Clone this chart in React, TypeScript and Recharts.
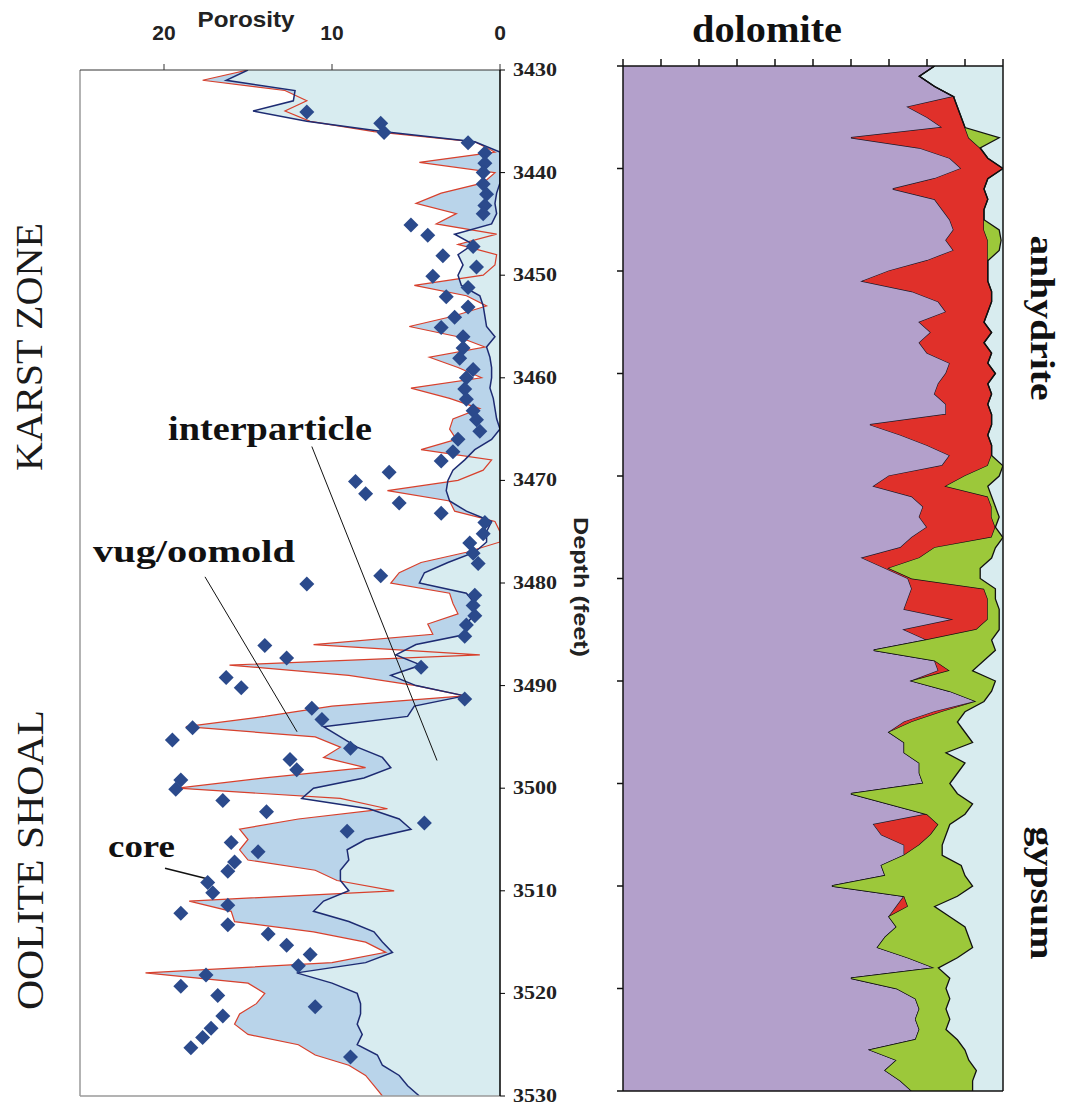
import React from 'react';
import { ComposedChart, Area, Line, Scatter, XAxis, YAxis, ReferenceLine, CartesianGrid } from 'recharts';

// depth grid (feet) shared by both tracks
const DEPTH = [
  3430, 3431, 3432, 3433, 3434, 3435, 3436, 3437, 3438, 3439,
  3440, 3441, 3442, 3443, 3444, 3445, 3446, 3447, 3448, 3449,
  3450, 3451, 3452, 3453, 3454, 3455, 3456, 3457, 3458, 3459,
  3460, 3461, 3462, 3463, 3464, 3465, 3466, 3467, 3468, 3469,
  3470, 3471, 3472, 3473, 3474, 3475, 3476, 3477, 3478, 3479,
  3480, 3481, 3482, 3483, 3484, 3485, 3486, 3487, 3488, 3489,
  3490, 3491, 3492, 3493, 3494, 3495, 3496, 3497, 3498, 3499,
  3500, 3501, 3502, 3503, 3504, 3505, 3506, 3507, 3508, 3509,
  3510, 3511, 3512, 3513, 3514, 3515, 3516, 3517, 3518, 3519,
  3520, 3521, 3522, 3523, 3524, 3525, 3526, 3527, 3528, 3529,
  3530,
];

// total log porosity (red line)
const TOTAL_POROSITY = [
  15.0, 17.7, 12.8, 11.5, 12.8, 11.3, 7.5, 1.5, 0.3, 4.8,
  0.3, 1.0, 3.5, 5.0, 2.6, 3.8, 0.2, 2.5, 0.2, 0.3,
  1.0, 5.1, 2.0, 0.8, 2.8, 5.4, 2.5, 0.9, 4.2, 2.5,
  1.1, 5.3, 3.0, 1.2, 2.8, 3.0, 2.6, 4.7, 0.5, 1.0,
  2.5, 6.7, 3.0, 2.7, 0.3, 0.0, 0.0, 2.0, 4.7, 6.0,
  6.5, 3.0, 2.8, 2.5, 4.3, 4.0, 11.1, 1.2, 16.1, 9.0,
  5.0, 2.1, 10.0, 14.0, 18.7, 11.0, 9.5, 10.5, 8.0, 14.0,
  19.2, 9.5, 6.7, 12.0, 15.5, 15.0, 15.5, 15.0, 11.0, 9.7,
  6.3, 18.5, 16.0, 15.8, 11.1, 8.0, 6.8, 10.0, 21.1, 15.0,
  14.0, 14.5, 15.5, 15.8, 15.0, 12.0, 11.0, 9.0, 8.0, 7.5,
  7.0,
];

// interparticle porosity (dark blue line)
const INTERPARTICLE = [
  15.0, 16.3, 12.2, 12.3, 14.7, 11.5, 7.0, 1.5, 0.0, 0.0,
  0.0, 0.0, 0.2, 0.3, 0.2, 0.5, 2.7, 1.6, 2.5, 2.2,
  2.5, 2.3, 1.2, 1.0, 0.9, 0.8, 0.3, 0.8, 0.6, 0.5,
  0.5, 0.6, 0.4, 0.3, 0.2, 0.0, 0.5, 1.5, 2.1, 2.8,
  3.1, 3.2, 3.0, 2.0, 0.5, 0.8, 0.8, 1.5, 3.1, 4.5,
  4.8, 2.0, 1.5, 1.5, 2.0, 2.0, 5.0, 6.2, 4.7, 6.5,
  5.0, 2.1, 5.1, 5.5, 10.5, 9.5, 8.5, 7.0, 6.5, 8.1,
  11.1, 11.8, 7.8, 6.0, 5.3, 8.0, 9.1, 9.0, 9.5, 9.5,
  9.0, 10.5, 11.1, 9.0, 7.5, 7.0, 6.4, 8.0, 12.1, 10.0,
  8.5, 8.3, 8.3, 8.5, 8.2, 8.5, 7.3, 7.0, 6.0, 5.5,
  4.8,
];

// core plug measurements
const CORE_DEPTH = [
  3434.1, 3435.2, 3436.1, 3437.1, 3438.1, 3439.1, 3440.0, 3441.1, 3442.1, 3443.2,
  3444.0, 3445.1, 3446.1, 3447.2, 3448.1, 3449.2, 3450.1, 3451.2, 3452.1, 3453.1,
  3454.1, 3455.1, 3456.0, 3457.1, 3458.1, 3459.2, 3460.0, 3461.1, 3462.1, 3463.2,
  3464.1, 3465.2, 3466.0, 3467.2, 3468.1, 3469.2, 3470.1, 3471.3, 3472.2, 3473.2,
  3474.1, 3475.2, 3476.1, 3477.1, 3478.1, 3479.3, 3480.1, 3481.2, 3482.2, 3483.2,
  3484.1, 3485.2, 3486.1, 3487.3, 3488.2, 3489.2, 3490.2, 3491.3, 3492.2, 3493.3,
  3494.1, 3495.3, 3496.1, 3497.2, 3498.2, 3499.2, 3500.1, 3501.2, 3502.3, 3503.4,
  3504.2, 3505.3, 3506.2, 3507.2, 3508.1, 3509.2, 3510.2, 3511.4, 3512.2, 3513.3,
  3514.2, 3515.3, 3516.2, 3517.3, 3518.2, 3519.3, 3520.2, 3521.3, 3522.2, 3523.4,
  3524.3, 3525.3, 3526.2,
];
const CORE_POROSITY = [
  11.5, 7.1, 6.9, 1.9, 0.9, 0.9, 1.0, 1.0, 0.8, 0.9,
  1.0, 5.3, 4.3, 1.6, 3.4, 1.4, 4.0, 1.9, 3.2, 1.9,
  2.7, 3.5, 2.2, 2.2, 2.4, 1.6, 2.0, 2.1, 2.0, 1.6,
  1.4, 1.2, 2.5, 2.8, 3.5, 6.6, 8.6, 8.0, 6.0, 3.5,
  0.9, 1.0, 1.8, 1.6, 1.3, 7.1, 11.5, 1.5, 1.6, 1.5,
  2.0, 2.1, 14.0, 12.7, 4.7, 16.3, 15.4, 2.1, 11.2, 10.6,
  18.3, 19.5, 8.9, 12.5, 12.1, 19.0, 19.3, 16.5, 13.9, 4.5,
  9.1, 16.0, 14.4, 15.8, 16.2, 17.4, 17.1, 16.2, 19.0, 16.2,
  13.8, 12.7, 11.3, 12.0, 17.5, 19.0, 16.8, 11.0, 16.5, 17.2,
  17.7, 18.4, 8.9,
];

// mineralogy, percent of rock (stacked from the left)
const DOLOMITE = [
  82, 78, 82, 87, 75, 80, 84, 60, 78, 86,
  89, 82, 71, 82, 84, 86, 87, 85, 87, 80,
  70, 63, 76, 83, 85, 78, 81, 78, 80, 86,
  85, 83, 82, 85, 85, 65, 73, 80, 86, 84,
  70, 66, 76, 79, 78, 80, 76, 73, 63, 69,
  75, 76, 75, 74, 87, 74, 80, 66, 82, 83,
  76, 86, 93, 82, 74, 70, 74, 74, 78, 78,
  79, 60, 70, 80, 66, 68, 74, 74, 68, 69,
  55, 74, 72, 70, 72, 69, 67, 75, 82, 60,
  72, 77, 78, 77, 78, 77, 65, 72, 69, 73,
  76,
];
const ANHYDRITE = [
  0, 0, 0, 0, 13, 9, 6, 31, 16, 10,
  11, 14, 24, 14, 11, 9, 8, 11, 9, 16,
  26, 33, 21, 14, 11, 17, 16, 17, 17, 10,
  13, 13, 15, 11, 12, 32, 23, 17, 11, 12,
  20, 19, 20, 18, 19, 18, 21, 9, 15, 1,
  1, 19, 21, 22, 9, 19, 0, 0, 0, 3,
  0, 0, 0, 2, 2, 0, 0, 0, 0, 0,
  0, 0, 0, 0, 17, 13, 4, 0, 0, 0,
  0, 0, 3, 0, 0, 0, 0, 0, 0, 0,
  0, 0, 0, 0, 0, 0, 0, 0, 0, 0,
  0,
];
const GYPSUM = [
  0, 0, 0, 0, 0, 0, 0, 8, 0, 0,
  0, 0, 0, 0, 0, 0, 4, 3.5, 3, 0,
  0, 0, 0, 0, 0, 0, 0, 0, 0, 0,
  0, 0, 0, 0, 0, 0, 0, 0, 0, 4,
  9, 11, 1, 1, 2, 0, 3, 16, 19, 24,
  18, 3, 2, 3, 3, 6, 17, 32, 13, 6,
  22, 11, 2, 6, 12, 20, 18, 11, 12, 10,
  7, 28, 22, 10, 3, 4, 6, 10, 21, 21,
  37, 14, 7, 16, 18, 22, 25, 13, 1, 26,
  13, 9, 7, 9, 7, 11, 25, 19, 24, 19,
  16,
];

const DEPTH_TICKS = [3430, 3440, 3450, 3460, 3470, 3480, 3490, 3500, 3510, 3520, 3530];
const POROSITY_TICKS = [20, 10, 0];
const PERCENT_TICKS = [0, 10, 20, 30, 40, 50, 60, 70, 80, 90, 100];

// leader lines for the annotations, in (porosity, depth)
const INTERPARTICLE_LEADER = [{ x: 11.2, y: 3466.7 }, { x: 3.75, y: 3497.3 }];
const VUG_LEADER = [{ x: 17.56, y: 3479.4 }, { x: 12.08, y: 3494.5 }];
const CORE_LEADER = [{ x: 19.94, y: 3507.8 }, { x: 17.26, y: 3508.9 }];

const logRows = DEPTH.map((depth, i) => ({ depth, total: TOTAL_POROSITY[i], inter: INTERPARTICLE[i] }));
const coreRows = CORE_DEPTH.map((depth, i) => ({ depth, core: CORE_POROSITY[i] }));
const mineralRows = DEPTH.map((depth, i) => ({
  depth,
  dolomite: DOLOMITE[i],
  anhydrite: ANHYDRITE[i],
  gypsum: GYPSUM[i],
}));

const SERIF = "'Liberation Serif', 'Times New Roman', serif";
const SANS = "'Liberation Sans', Arial, sans-serif";

const DepthTick = (props: any) => {
  const { x, y, payload } = props;
  return (
    <text x={x} y={y} dy={6} textAnchor="start" fontFamily={SERIF} fontWeight="bold" fontSize={19}
      fill="#222" textLength={44} lengthAdjust="spacingAndGlyphs">
      {payload.value}
    </text>
  );
};

const PorosityTick = (props: any) => {
  const { x, y, payload } = props;
  return (
    <text x={x} y={y} textAnchor="middle" fontFamily={SANS} fontWeight="bold" fontSize={21} fill="#222">
      {payload.value}
    </text>
  );
};

// tick marks only, no label
const NoLabel = () => null;

const Diamond = (props: any) => {
  const { cx, cy } = props;
  if (cx == null || cy == null) return null;
  const r = 7.5;
  return (
    <polygon
      points={`${cx},${cy - r} ${cx + r},${cy} ${cx},${cy + r} ${cx - r},${cy}`}
      fill="#2b4a8c"
    />
  );
};

const PorosityTrack = () => (
  <ComposedChart
    layout="vertical"
    width={610}
    height={1107}
    data={logRows}
    margin={{ top: 40, right: 50, bottom: 11, left: 80 }}
  >
    <XAxis
      type="number"
      orientation="top"
      domain={[0, 25]}
      reversed
      allowDataOverflow
      ticks={POROSITY_TICKS}
      height={30}
      tickSize={6}
      tickMargin={24}
      tick={<PorosityTick />}
      axisLine={{ stroke: '#333' }}
      tickLine={{ stroke: '#333' }}
    />
    <YAxis
      type="number"
      dataKey="depth"
      orientation="right"
      domain={[3430, 3530]}
      allowDataOverflow
      ticks={DEPTH_TICKS}
      width={60}
      tickSize={5}
      tickMargin={8}
      tick={<DepthTick />}
      axisLine={{ stroke: '#000', strokeWidth: 1.5 }}
      tickLine={{ stroke: '#000' }}
    />
    <Area dataKey="total" type="linear" fill="#b9d4ea" fillOpacity={1} stroke="none" isAnimationActive={false} />
    <Area dataKey="inter" type="linear" fill="#d8ecf0" fillOpacity={1} stroke="none" isAnimationActive={false} />
    <Line dataKey="total" type="linear" stroke="#d8402c" strokeWidth={1.2} dot={false} isAnimationActive={false} />
    <Line dataKey="inter" type="linear" stroke="#1d2b72" strokeWidth={1.5} dot={false} isAnimationActive={false} />
    <Scatter data={coreRows} dataKey="core" shape={<Diamond />} isAnimationActive={false} />
    <ReferenceLine x={25} stroke="#9a9a9a" strokeWidth={1.5} />
    <ReferenceLine y={3530} stroke="#9a9a9a" strokeWidth={1.5} />
    <ReferenceLine segment={INTERPARTICLE_LEADER} stroke="#111" strokeWidth={1} ifOverflow="visible" />
    <ReferenceLine segment={VUG_LEADER} stroke="#111" strokeWidth={1} ifOverflow="visible" />
    <ReferenceLine segment={CORE_LEADER} stroke="#111" strokeWidth={1.5} ifOverflow="visible" />
  </ComposedChart>
);

const MineralTrack = () => (
  <ComposedChart
    layout="vertical"
    width={505}
    height={1107}
    data={mineralRows}
    margin={{ top: 36, right: 62, bottom: 16, left: 43 }}
  >
    <CartesianGrid horizontal={false} vertical={false} fill="#d8ecef" fillOpacity={1} />
    <XAxis
      type="number"
      orientation="top"
      domain={[0, 100]}
      allowDataOverflow
      ticks={PERCENT_TICKS}
      height={30}
      tickSize={7}
      tick={<NoLabel />}
      axisLine={{ stroke: '#111', strokeWidth: 1.5 }}
      tickLine={{ stroke: '#111', strokeWidth: 1.5 }}
    />
    <YAxis
      type="number"
      dataKey="depth"
      orientation="left"
      domain={[3430, 3530]}
      allowDataOverflow
      ticks={DEPTH_TICKS}
      width={20}
      tickSize={6}
      tick={<NoLabel />}
      axisLine={{ stroke: '#111', strokeWidth: 1.5 }}
      tickLine={{ stroke: '#111', strokeWidth: 1.5 }}
    />
    <Area dataKey="dolomite" stackId="m" type="linear" fill="#b3a0cb" fillOpacity={1} stroke="#1a1a2a" strokeWidth={1.3} isAnimationActive={false} />
    <Area dataKey="anhydrite" stackId="m" type="linear" fill="#e0302a" fillOpacity={1} stroke="#111" strokeWidth={1.3} isAnimationActive={false} />
    <Area dataKey="gypsum" stackId="m" type="linear" fill="#9cc83a" fillOpacity={1} stroke="#111" strokeWidth={1.3} isAnimationActive={false} />
    <ReferenceLine x={100} stroke="#111" strokeWidth={1.5} />
    <ReferenceLine y={3530} stroke="#111" strokeWidth={1.5} />
  </ComposedChart>
);

const Labels = () => (
  <svg width={1065} height={1107} style={{ position: 'absolute', left: 0, top: 0, pointerEvents: 'none' }}>
    <text x={246} y={27} textAnchor="middle" fontFamily={SANS} fontWeight="bold" fontSize={22} fill="#222"
      textLength={97} lengthAdjust="spacingAndGlyphs">Porosity</text>
    <text x={767} y={42} textAnchor="middle" fontFamily={SERIF} fontWeight="bold" fontSize={38} fill="#111"
      textLength={150} lengthAdjust="spacingAndGlyphs">dolomite</text>
    <text x={1031} y={318} transform="rotate(90 1031 318)" textAnchor="middle" fontFamily={SERIF} fontWeight="bold"
      fontSize={34} fill="#111" textLength={165} lengthAdjust="spacingAndGlyphs">anhydrite</text>
    <text x={1031} y={893} transform="rotate(90 1031 893)" textAnchor="middle" fontFamily={SERIF} fontWeight="bold"
      fontSize={34} fill="#111" textLength={133} lengthAdjust="spacingAndGlyphs">gypsum</text>
    <text x={574} y={587} transform="rotate(90 574 587)" textAnchor="middle" fontFamily={SANS} fontWeight="bold"
      fontSize={20} fill="#222" textLength={140} lengthAdjust="spacingAndGlyphs">Depth (feet)</text>
    <text x={42} y={347} transform="rotate(-90 42 347)" textAnchor="middle" fontFamily={SERIF}
      fontSize={38} fill="#1a1a1a" textLength={248} lengthAdjust="spacingAndGlyphs">KARST ZONE</text>
    <text x={43} y={860} transform="rotate(-90 43 860)" textAnchor="middle" fontFamily={SERIF}
      fontSize={38} fill="#1a1a1a" textLength={300} lengthAdjust="spacingAndGlyphs">OOLITE SHOAL</text>
    <text x={168} y={440} fontFamily={SERIF} fontWeight="bold" fontSize={33} fill="#111"
      textLength={204} lengthAdjust="spacingAndGlyphs">interparticle</text>
    <text x={93} y={562} fontFamily={SERIF} fontWeight="bold" fontSize={31} fill="#111"
      textLength={202} lengthAdjust="spacingAndGlyphs">vug/oomold</text>
    <text x={108} y={857} fontFamily={SERIF} fontWeight="bold" fontSize={31} fill="#111"
      textLength={67} lengthAdjust="spacingAndGlyphs">core</text>
  </svg>
);

export default function App() {
  return (
    <div style={{ position: 'absolute', left: 0, top: 0, width: 1065, height: 1107, background: '#fff', overflow: 'hidden' }}>
      <div style={{ position: 'absolute', left: 0, top: 0 }}>
        <PorosityTrack />
      </div>
      <div style={{ position: 'absolute', left: 560, top: 0 }}>
        <MineralTrack />
      </div>
      <Labels />
    </div>
  );
}
